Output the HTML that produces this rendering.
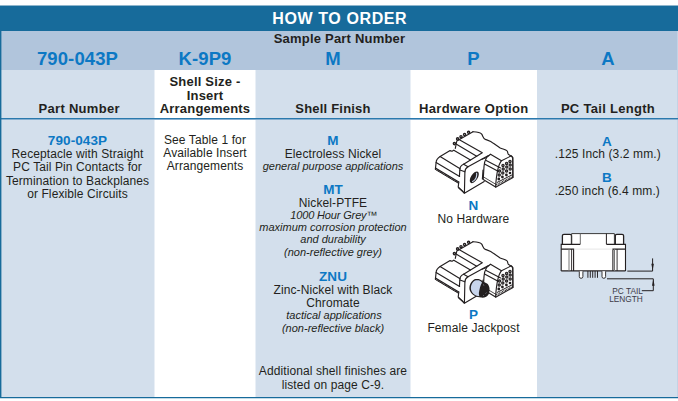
<!DOCTYPE html>
<html><head><meta charset="utf-8">
<style>
*{margin:0;padding:0;box-sizing:border-box}
html,body{width:678px;height:401px;background:#fff;overflow:hidden}
body{position:relative;font-family:"Liberation Sans",sans-serif;color:#231f20}
.a{position:absolute}
.t{position:absolute;width:300px;height:20px;line-height:20px;text-align:center;white-space:nowrap}
svg{position:absolute;overflow:visible}
</style></head><body>
<div class="a" style="left:0;top:5px;width:678px;height:1px;background:#8fb6cd"></div>
<div class="a" style="left:0;top:6px;width:678px;height:25px;background:#176b9b"></div>
<div class="a" style="left:0;top:31px;width:678px;height:39px;background:#b1c5dc"></div>
<div class="a" style="left:0;top:70px;width:154px;height:328px;background:#d3dfec"></div>
<div class="a" style="left:154px;top:70px;width:102px;height:328px;background:#fff"></div>
<div class="a" style="left:256px;top:70px;width:154px;height:328px;background:#d3dfec"></div>
<div class="a" style="left:410px;top:70px;width:127px;height:328px;background:#fff"></div>
<div class="a" style="left:537px;top:70px;width:141px;height:328px;background:#d3dfec"></div>
<div class="a" style="left:154px;top:70px;width:1px;height:327px;background:#e9eff6"></div>
<div class="a" style="left:255px;top:70px;width:1px;height:327px;background:#e9eff6"></div>
<div class="a" style="left:410px;top:70px;width:1px;height:327px;background:#e9eff6"></div>
<div class="a" style="left:677px;top:31px;width:1px;height:367px;background:#c3d3e5"></div>
<div class="a" style="left:0;top:118px;width:678px;height:1px;background:#2a79ad"></div>
<div class="a" style="left:0;top:119px;width:678px;height:1px;background:#86afd0"></div>
<div class="a" style="left:0;top:6px;width:1px;height:392px;background:#176b9b"></div>
<div class="a" style="left:0;top:397px;width:678px;height:1px;background:#176b9b"></div>
<div class="a" style="left:1px;top:31px;width:1px;height:367px;background:rgba(23,107,155,0.4)"></div>
<div class="a" style="left:0;top:398px;width:678px;height:1px;background:rgba(23,107,155,0.25)"></div>
<div class="t" style="left:189.80px;top:8.50px;font-size:16px;letter-spacing:0.6px;color:#ffffff;font-weight:bold;">HOW TO ORDER</div>
<div class="t" style="left:189.50px;top:28.50px;font-size:13px;letter-spacing:0.2px;color:#231f20;font-weight:bold;">Sample Part Number</div>
<div class="t" style="left:-72.50px;top:48.50px;font-size:18.5px;letter-spacing:0.12px;color:#0c78c4;font-weight:bold;">790-043P</div>
<div class="t" style="left:55.00px;top:48.50px;font-size:18.5px;letter-spacing:0.12px;color:#0c78c4;font-weight:bold;">K-9P9</div>
<div class="t" style="left:183.00px;top:48.50px;font-size:18.5px;letter-spacing:0.12px;color:#0c78c4;font-weight:bold;">M</div>
<div class="t" style="left:323.50px;top:48.50px;font-size:18.5px;letter-spacing:0.12px;color:#0c78c4;font-weight:bold;">P</div>
<div class="t" style="left:458.00px;top:48.50px;font-size:18.5px;letter-spacing:0.12px;color:#0c78c4;font-weight:bold;">A</div>
<div class="t" style="left:-70.80px;top:98.50px;font-size:13px;letter-spacing:0.3px;color:#231f20;font-weight:bold;">Part Number</div>
<div class="t" style="left:55.00px;top:71.50px;font-size:13px;letter-spacing:0.2px;color:#231f20;font-weight:bold;">Shell Size -</div>
<div class="t" style="left:55.00px;top:85.50px;font-size:13px;letter-spacing:0.2px;color:#231f20;font-weight:bold;">Insert</div>
<div class="t" style="left:55.00px;top:98.50px;font-size:13px;letter-spacing:0.2px;color:#231f20;font-weight:bold;">Arrangements</div>
<div class="t" style="left:183.00px;top:98.50px;font-size:13px;letter-spacing:0.2px;color:#231f20;font-weight:bold;">Shell Finish</div>
<div class="t" style="left:323.80px;top:98.50px;font-size:13px;letter-spacing:0.32px;color:#231f20;font-weight:bold;">Hardware Option</div>
<div class="t" style="left:458.00px;top:98.50px;font-size:13px;letter-spacing:0.3px;color:#231f20;font-weight:bold;">PC Tail Length</div>
<div class="t" style="left:-72.50px;top:130.50px;font-size:13.5px;letter-spacing:0.1px;color:#0c78c4;font-weight:bold;">790-043P</div>
<div class="t" style="left:-72.50px;top:144.00px;font-size:12px;letter-spacing:0.1px;color:#231f20;">Receptacle with Straight</div>
<div class="t" style="left:-72.50px;top:157.00px;font-size:12px;letter-spacing:0.1px;color:#231f20;">PC Tail Pin Contacts for</div>
<div class="t" style="left:-72.50px;top:171.00px;font-size:12px;letter-spacing:0.1px;color:#231f20;">Termination to Backplanes</div>
<div class="t" style="left:-72.50px;top:184.00px;font-size:12px;letter-spacing:0.1px;color:#231f20;">or Flexible Circuits</div>
<div class="t" style="left:55.00px;top:130.00px;font-size:12px;letter-spacing:0.1px;color:#231f20;">See Table 1 for</div>
<div class="t" style="left:55.00px;top:143.00px;font-size:12px;letter-spacing:0.1px;color:#231f20;">Available Insert</div>
<div class="t" style="left:55.00px;top:156.00px;font-size:12px;letter-spacing:0.1px;color:#231f20;">Arrangements</div>
<div class="t" style="left:183.00px;top:130.50px;font-size:13.5px;letter-spacing:0.1px;color:#0c78c4;font-weight:bold;">M</div>
<div class="t" style="left:183.00px;top:144.00px;font-size:12px;letter-spacing:0.1px;color:#231f20;">Electroless Nickel</div>
<div class="t" style="left:183.00px;top:156.00px;font-size:11px;letter-spacing:0px;color:#231f20;font-style:italic;">general purpose applications</div>
<div class="t" style="left:183.00px;top:179.50px;font-size:13.5px;letter-spacing:0.1px;color:#0c78c4;font-weight:bold;">MT</div>
<div class="t" style="left:183.00px;top:193.00px;font-size:12px;letter-spacing:0.1px;color:#231f20;">Nickel-PTFE</div>
<div class="t" style="left:183.80px;top:205.00px;font-size:11px;letter-spacing:-0.15px;color:#231f20;font-style:italic;">1000 Hour Grey™</div>
<div class="t" style="left:183.00px;top:217.00px;font-size:11px;letter-spacing:0px;color:#231f20;font-style:italic;">maximum corrosion protection</div>
<div class="t" style="left:183.00px;top:229.00px;font-size:11px;letter-spacing:0px;color:#231f20;font-style:italic;">and durability</div>
<div class="t" style="left:183.00px;top:242.00px;font-size:11px;letter-spacing:0px;color:#231f20;font-style:italic;">(non-reflective grey)</div>
<div class="t" style="left:183.00px;top:266.50px;font-size:13.5px;letter-spacing:0.1px;color:#0c78c4;font-weight:bold;">ZNU</div>
<div class="t" style="left:183.00px;top:280.00px;font-size:12px;letter-spacing:0.1px;color:#231f20;">Zinc-Nickel with Black</div>
<div class="t" style="left:183.00px;top:293.00px;font-size:12px;letter-spacing:0.1px;color:#231f20;">Chromate</div>
<div class="t" style="left:184.00px;top:305.00px;font-size:11px;letter-spacing:0px;color:#231f20;font-style:italic;">tactical applications</div>
<div class="t" style="left:183.00px;top:318.00px;font-size:11px;letter-spacing:0px;color:#231f20;font-style:italic;">(non-reflective black)</div>
<div class="t" style="left:183.00px;top:361.00px;font-size:12px;letter-spacing:0.1px;color:#231f20;">Additional shell finishes are</div>
<div class="t" style="left:183.00px;top:375.00px;font-size:12px;letter-spacing:0.1px;color:#231f20;">listed on page C-9.</div>
<div class="t" style="left:323.50px;top:195.50px;font-size:13.5px;letter-spacing:0.1px;color:#0c78c4;font-weight:bold;">N</div>
<div class="t" style="left:323.50px;top:209.00px;font-size:12px;letter-spacing:0.1px;color:#231f20;">No Hardware</div>
<div class="t" style="left:323.50px;top:304.50px;font-size:13.5px;letter-spacing:0.1px;color:#0c78c4;font-weight:bold;">P</div>
<div class="t" style="left:323.50px;top:318.00px;font-size:12px;letter-spacing:0.1px;color:#231f20;">Female Jackpost</div>
<div class="t" style="left:457.00px;top:131.50px;font-size:13.5px;letter-spacing:0.1px;color:#0c78c4;font-weight:bold;">A</div>
<div class="t" style="left:457.80px;top:144.00px;font-size:12px;letter-spacing:0.1px;color:#231f20;">.125 Inch (3.2 mm.)</div>
<div class="t" style="left:457.00px;top:167.50px;font-size:13.5px;letter-spacing:0.1px;color:#0c78c4;font-weight:bold;">B</div>
<div class="t" style="left:457.30px;top:181.00px;font-size:12px;letter-spacing:0.1px;color:#231f20;">.250 inch (6.4 mm.)</div>
<svg style="left:0;top:0" width="678" height="401" viewBox="0 0 678 401">
<!-- white fill of body -->
<path fill="#fff" d="M561.2 244.4 H562.4 V234.3 H571.6 V233.6 H614.5 V234.3 H623.6 V244.4 H625.5 V271 H561.2 Z"/>
<g fill="none" stroke="#231f20">
 <path stroke-width="1.3" d="M562.4 243.9 V235.8 Q562.4 234.3 563.9 234.3 H570 Q571.5 234.3 571.5 235.8 V243.9"/>
 <path stroke-width="1.3" d="M615.3 243.9 V235.8 Q615.3 234.3 616.8 234.3 H622.1 Q623.6 234.3 623.6 235.8 V243.9"/>
 <path stroke-width="1" stroke="#3a3a3a" d="M571.6 244.2 V233.6 H614.4 V244.2"/>
 <path stroke-width="1" stroke="#6a6a6a" d="M580.3 233.6 V244.2"/>
 <path stroke-width="1" d="M606.4 233.6 V244.2"/>
 <path stroke-width="1.1" d="M561.2 271 V244.4 H580.3 M606.4 244.4 H625.5 V271"/>
 <path stroke-width="1.1" d="M561.2 249.1 H573.6 V271 M612.9 271 V249.1 H625.5"/>
 <path stroke-width="0.5" stroke="#ccc" d="M573.6 249.1 H612.9"/>
 <path stroke-width="1.1" d="M561.2 270.9 H625.5"/>
 <path stroke-width="1" stroke="#777" d="M569 249.1 V271 M614.5 249.1 V271"/>
 <path stroke-width="0.9" d="M571.6 249.1 V271 M617.1 249.1 V271"/>
</g>
<g fill="#fff" stroke="#231f20" stroke-width="0.9">
 <path d="M579.3 271.3 V276.6 Q579.3 278.3 581.1 278.3 Q582.9 278.3 582.9 276.6 V271.3"/>
 <path d="M602 271.3 V276.6 Q602 278.3 603.8 278.3 Q605.6 278.3 605.6 276.6 V271.3"/>
</g>
<g stroke="#231f20" stroke-width="0.95">
 <path d="M587.9 271 V277.8 M590.3 271 V277.8 M592.7 271 V277.8 M595.1 271 V277.8 M597.5 271 V277.8"/>
</g>
<g fill="none" stroke="#231f20" stroke-width="1">
 <path d="M627.3 271.1 H652.6 V258.4"/>
 <path d="M607 278.8 H653.3 V290.7 H641.8"/>
</g>
<g fill="#231f20">
 <path d="M651.3 263.8 L653.9 263.8 L652.6 270.6 Z"/>
 <path d="M652 285.8 L654.6 285.8 L653.3 279.2 Z"/>
</g>
<text x="627.6" y="294.1" font-family="Liberation Sans" font-size="8.3" fill="#3d3a46" text-anchor="middle">PC TAIL</text>
<text x="626" y="302.1" font-family="Liberation Sans" font-size="8.3" fill="#3d3a46" text-anchor="middle">LENGTH</text>
</svg>
<svg style="left:0;top:0" width="678" height="401" viewBox="0 0 678 401">
<defs>
<g id="conn">
 <!-- white fill silhouette -->
 <path fill="#fff" stroke="none" d="M453.8 143.9 L473 131.7 L481 133.5 L484 139 L493.4 143.3 L500.2 148 L506.5 150 L508 154 L512.7 157 L512.7 177.6 L495.9 187.5 L484.2 181.4 L464.2 193.2 L458.2 187 L458.8 182.5 L435.4 169.3 L436.1 162.5 L440.1 156.6 L453.8 150.3 Z"/>
 <g fill="none" stroke="#231f20" stroke-width="1.15" stroke-linejoin="round" stroke-linecap="round">
  <!-- top outline -->
  <path d="M473 131.7 C477 131.8 480.5 132.5 481.7 134.2 C483 136 483 138.3 485.4 139.4 C489 140.6 491 141 493.4 143.3 L500.2 148 C503 149.2 505.8 149.3 507.2 151 C508 152.3 507.6 153.8 508.6 154.6 L511.4 156.2 L512.7 157.6 L512.9 177.6"/>
  <!-- pin row -->
  <path d="M455.3 148.4 L456.8 141 L473 131.7"/>
  <!-- top surface lines -->
  <path d="M459.8 140.1 L482.3 152.8 L463.6 164.3"/>
  <path d="M456.5 144.3 L476.7 156.2"/>
  <path d="M453.8 150.3 L470.5 160"/>
  <!-- front box -->
  <path d="M453.8 150.3 L452 151.3 L450.1 150.6 L440.1 156.6 C437.6 158.2 436.2 160.4 436.1 162.5 L435.4 169.3"/>
  <path d="M440.1 156.6 L460.1 168.7"/>
  <path d="M436.1 162.5 L459.6 176.4"/>
  <path d="M435.4 168 L458.8 182"/>
  <path d="M435.6 169.6 L458.6 183.4" stroke-width="1"/>
  <path d="M435.5 168.8 L458.7 182.7" stroke-width="1.2" stroke-dasharray="0.9 0.7" stroke-linecap="butt"/>
  <path d="M458.8 182 L458.2 187 L464.2 193.2"/>
  <path d="M458.3 187.6 L464 192.2" stroke-width="1.3" stroke-dasharray="0.9 0.7" stroke-linecap="butt"/>
  <!-- flange -->
  <path d="M463.6 164.3 C461.3 165.3 460 167 459.9 169 L459.4 176.4"/>
  <path d="M463.6 164.3 L468 166.8 L488.5 155.6"/>
  <path d="M459.9 170 L464.9 171.8"/>
  <path d="M468 166.8 C466 168 465 169.6 464.9 171.8 L464.4 193.2 L484.2 181.6"/>
  <path d="M483 170 L482.4 179"/>
  <!-- rear body -->
  <path d="M482 159.2 L486.5 157.5 L490.5 154.2 L501.5 160.7"/>
  <path d="M486.5 157.8 C485.2 160 484.3 163 484 166.5 L483.2 179.5 L495.6 187"/>
  <path d="M486.2 160.6 L500.6 168"/>
  <path d="M485 164.2 L499 171.8"/>
  <path d="M483.6 177 L496 184.4" stroke-width="0.8"/>
  <path d="M501.5 160.7 C498 165 496.5 172 495.6 187"/>
 </g>
 <!-- pin circles on top -->
 <g fill="#fff" stroke="#231f20" stroke-width="1.35">
  <circle cx="454.4" cy="143.6" r="1.1"/>
  <circle cx="457.6" cy="138.9" r="1.1"/>
  <circle cx="461" cy="136.7" r="1.1"/>
  <circle cx="464.6" cy="134.5" r="1.1"/>
  <circle cx="468.6" cy="132.3" r="1.1"/>
 </g>
 <!-- pin face -->
 <g fill="none" stroke="#231f20" stroke-width="1.1" stroke-linejoin="round">
  <path d="M501.5 160.7 L511.4 155.8 L512.8 157.6 L512.9 177.6 L495.6 187.2"/>
  <path d="M496.8 182.6 L512.6 174.6" stroke-width="1"/>
  <path d="M496.4 184.8 L512.6 176.6" stroke-width="1.5" stroke-dasharray="0.9 0.7" stroke-linecap="butt"/>
 </g>
 <g fill="#8a8a8a" stroke="#231f20" stroke-width="1.15">
  <circle cx="503" cy="165.4" r="1.15"/><circle cx="506.6" cy="163.4" r="1.15"/><circle cx="510" cy="161.4" r="1.15"/>
  <circle cx="499.6" cy="171" r="1.15"/><circle cx="503.2" cy="169" r="1.15"/><circle cx="506.8" cy="167" r="1.15"/><circle cx="510.2" cy="165" r="1.15"/>
  <circle cx="499.2" cy="175" r="1.15"/><circle cx="502.8" cy="173" r="1.15"/><circle cx="506.6" cy="171" r="1.15"/><circle cx="510.2" cy="169" r="1.15"/>
 </g>
 <g fill="#231f20">
  <circle cx="498.8" cy="179" r="1.4"/><circle cx="502.4" cy="177" r="1.4"/><circle cx="506.4" cy="175" r="1.4"/><circle cx="510" cy="173" r="1.3"/>
 </g>
</g>
</defs>
<use href="#conn"/>
<!-- N hole -->
<ellipse cx="474.3" cy="177.3" rx="3.3" ry="6.6" transform="rotate(33 474.3 177.3)" fill="#231f20"/>
<path d="M476.6 173.2 C477.3 176 476 179.8 472.6 181.6" fill="none" stroke="#d0dcf0" stroke-width="1.1" stroke-linecap="round"/>
<g transform="translate(0 110)"><use href="#conn"/></g>
<!-- P jackpost -->
<g transform="translate(0 110)">
</g>
<path d="M474.5 279.2 C477 278.6 480.5 278.8 482.6 281.2 L487 283.4 C489.8 285.4 490.2 290 488.8 294 C487.6 296.6 484.5 298 481.2 297.6 C477 297.4 471.4 295.2 469.8 290.6 C468.6 286.5 470.4 281.5 474.5 279.2 Z" fill="#231f20"/>
<path d="M475 280.5 C477.5 279.9 480.4 280.1 482 282.4 C480.4 284.8 479.4 289.4 478.9 292.8 C478.8 294.3 479.1 295.6 479.4 296.2 C475.8 295.9 472.4 293.9 471.2 290.2 C470.2 286.7 471.8 282.4 475 280.5 Z" fill="#c8d5ec"/>
<path d="M483 284.6 L484.2 285.4 M486.4 292.6 L485.6 293.6 M484 295 L483.2 295.8" stroke="#8a8f9a" stroke-width="0.8"/>
</svg>

</body></html>
